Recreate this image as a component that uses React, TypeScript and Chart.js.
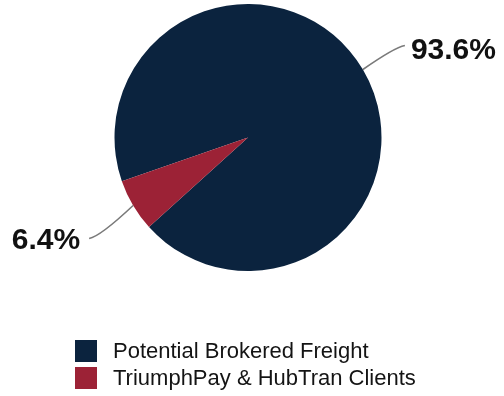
import React, { useEffect, useRef } from "react";
import { Chart, registerables } from "chart.js";

Chart.register(...registerables);

const categories = ["Potential Brokered Freight", "TriumphPay & HubTran Clients"];
const values = [93.6, 6.4];
const valueLabels = ["93.6%", "6.4%"];
const colors = ["#0b233e", "#9c2236"];

const labelPlugin = {
  id: "customLabels",
  afterDraw(chart: any) {
    const ctx = chart.ctx;
    const meta = chart.getDatasetMeta(0);
    ctx.save();
    meta.data.forEach((arc: any, i: number) => {
      const p = arc.getProps(["x", "y", "startAngle", "endAngle", "outerRadius"], true);
      const mid = (p.startAngle + p.endAngle) / 2;
      const ex = p.x + Math.cos(mid) * p.outerRadius;
      const ey = p.y + Math.sin(mid) * p.outerRadius;
      const right = Math.cos(mid) >= 0;
      const dx = right ? 42 : -44;
      const dy = right ? -24 : 33;
      const tx = ex + dx;
      const ty = ey + dy;
      ctx.strokeStyle = "#7a7a7a";
      ctx.lineWidth = 1.6;
      ctx.beginPath();
      ctx.moveTo(ex, ey);
      const cx = ex + dx * 0.75;
      const cy = ty;
      ctx.quadraticCurveTo(cx, cy + (right ? 2 : -2), tx, ty);
      ctx.stroke();
      ctx.fillStyle = "#111111";
      ctx.font = 'bold 30px "Liberation Sans", Arial, sans-serif';
      ctx.textBaseline = "middle";
      if (right) {
        ctx.textAlign = "left";
        ctx.fillText(valueLabels[i], tx + 6, ty + 5);
      } else {
        ctx.textAlign = "right";
        ctx.fillText(valueLabels[i], tx - 9, ty + 2);
      }
    });
    // legend
    const labels = chart.data.labels as string[];
    const bg = chart.data.datasets[0].backgroundColor as string[];
    ctx.font = '22px "Liberation Sans", Arial, sans-serif';
    ctx.textAlign = "left";
    ctx.textBaseline = "middle";
    labels.forEach((lab: string, i: number) => {
      const y = 340 + i * 27;
      ctx.fillStyle = bg[i];
      ctx.fillRect(75, y, 22, 22);
      ctx.fillStyle = "#141414";
      ctx.fillText(lab, 113, y + 12);
    });
    ctx.restore();
  },
};

export default function App() {
  const ref = useRef<HTMLCanvasElement | null>(null);
  useEffect(() => {
    document.body.style.margin = "0";
    const canvas = ref.current;
    if (!canvas) return;
    const chart = new Chart(canvas, {
      type: "pie",
      data: {
        labels: categories,
        datasets: [
          {
            data: values,
            backgroundColor: colors,
            borderWidth: 0,
          },
        ],
      },
      options: {
        responsive: false,
        animation: false,
        rotation: 250.9,
        layout: { padding: { top: 4, bottom: 125, left: 0, right: 8 } },
        plugins: {
          legend: { display: false },
          tooltip: { enabled: false },
        },
      },
      plugins: [labelPlugin],
    });
    return () => chart.destroy();
  }, []);
  return (
    <div style={{ position: "absolute", left: 0, top: 0, width: 504, height: 396, background: "#fff" }}>
      <canvas ref={ref} width={504} height={396} />
    </div>
  );
}
